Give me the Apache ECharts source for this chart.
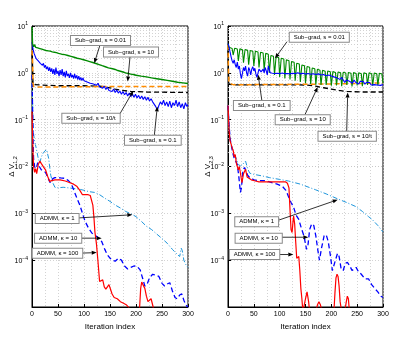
<!DOCTYPE html>
<html><head><meta charset="utf-8">
<script src="https://cdn.jsdelivr.net/npm/echarts@6/dist/echarts.min.js"></script>
<style>html,body{margin:0;padding:0;background:#fff}#c{width:415px;height:344px}</style>
</head><body><div id="c"></div>
<script>
// ---------- tick labels ----------
const xTicks = [0, 50, 100, 150, 200, 250, 300];
const yDecades = [-5, -4, -3, -2, -1, 0, 1];

// ---------- LEFT panel (ΔV_{1,2}) ----------
const L_sg001 = [[0,9.5],[1,4.2],[3,3.6],[5,4.0],[7,3.5],[9,3.8],[11,3.4],[13,3.7],[15,3.3],[17,3.6],[19,3.2],[21,3.5],[23,3.1],[25,3.4],[27,3.0],[29,3.3],[31,2.95],[33,3.2],[35,2.9],[37,3.1],[39,2.8],[41,3.05],[43,2.75],[45,2.95],[47,2.7],[49,2.9],[51,2.6],[54,2.8],[57,2.5],[60,2.7],[63,2.45],[66,2.6],[69,2.35],[72,2.5],[75,2.25],[78,2.4],[81,2.15],[84,2.3],[87,2.05],[90,2.2],[93,1.98],[96,2.1],[99,1.9],[102,2.0],[105,1.82],[108,1.92],[111,1.74],[114,1.84],[117,1.66],[120,1.74],[123,1.58],[126,1.66],[129,1.50],[132,1.56],[135,1.42],[138,1.48],[141,1.35],[144,1.40],[147,1.28],[150,1.32],[155,1.22],[160,1.18],[165,1.12],[170,1.08],[175,1.04],[180,1.0],[185,0.97],[190,0.94],[195,0.92],[200,0.89],[210,0.85],[220,0.82],[230,0.78],[240,0.75],[250,0.72],[260,0.69],[270,0.66],[280,0.63],[290,0.61],[300,0.59]];
const L_sg01 = [[0,4.5],[2,3.2],[4,2.6],[6,2.4],[8,2.0],[10,2.2],[12,1.8],[14,1.9],[16,1.6],[18,1.7],[20,1.45],[22,1.6],[24,1.3],[26,1.45],[28,1.2],[30,1.35],[32,1.1],[34,1.3],[36,1.05],[38,1.25],[40,0.95],[42,1.2],[44,0.9],[46,1.3],[48,0.95],[50,1.1],[52,0.85],[54,1.15],[56,0.9],[58,1.2],[60,0.85],[62,1.05],[64,0.8],[66,1.1],[68,0.85],[70,0.95],[72,0.78],[74,1.0],[76,0.8],[78,0.9],[80,0.75],[82,0.95],[84,0.76],[86,0.88],[88,0.72],[90,0.85],[92,0.7],[94,0.8],[96,0.68],[98,0.78],[100,0.68],[103,0.72],[106,0.64],[109,0.7],[112,0.6],[115,0.66],[118,0.58],[121,0.63],[124,0.54],[127,0.6],[130,0.5],[133,0.55],[136,0.47],[139,0.52],[142,0.44],[145,0.49],[148,0.42],[151,0.46],[154,0.40],[157,0.45],[160,0.38],[163,0.43],[166,0.37],[169,0.41],[172,0.35],[175,0.40],[178,0.34],[181,0.38],[184,0.32],[187,0.37],[190,0.31],[193,0.36],[196,0.30],[199,0.35],[202,0.29],[205,0.33],[208,0.28],[211,0.32],[214,0.27],[217,0.31],[220,0.26],[223,0.30],[226,0.25],[229,0.28],[232,0.24],[235,0.26],[238,0.19],[241,0.16],[244,0.20],[247,0.24],[250,0.21],[253,0.26],[256,0.20],[259,0.24],[262,0.19],[265,0.25],[268,0.18],[271,0.23],[274,0.20],[277,0.26],[280,0.19],[283,0.24],[286,0.18],[289,0.22],[292,0.17],[295,0.23],[298,0.19],[300,0.21]];
const L_sg10 = [[0,3.0],[1,2.0],[2,0.6],[3,0.51],[10,0.5],[50,0.5],[100,0.505],[150,0.51],[200,0.51],[250,0.51],[300,0.51]];
const L_sg10t = [[0,2.5],[1,1.5],[2,0.56],[3,0.53],[50,0.53],[100,0.53],[130,0.52],[145,0.49],[160,0.45],[175,0.42],[190,0.40],[220,0.39],[260,0.385],[300,0.38]];
const L_admm1 = [[0,0.6],[1,0.3],[2,0.08],[3,0.05],[5,0.035],[8,0.025],[12,0.015],[15,0.012],[18,0.016],[22,0.02],[28,0.023],[32,0.015],[36,0.0065],[40,0.0045],[44,0.0036],[50,0.0035],[60,0.0036],[70,0.0035],[80,0.0034],[90,0.0033],[100,0.0031],[110,0.0029],[120,0.0028],[130,0.0025],[140,0.0021],[150,0.0018],[160,0.0015],[170,0.0013],[180,0.0011],[190,0.00098],[200,0.00085],[210,0.00068],[220,0.00053],[230,0.00045],[240,0.00036],[250,0.00029],[260,0.00023],[270,0.00017],[280,0.00013],[284,0.00012],[287,0.00018],[289,0.00016],[292,0.0001],[296,0.00008],[300,0.00007]];
const L_admm10 = [[0,0.9],[1,0.2],[2,0.04],[3,0.015],[5,0.01],[8,0.009],[11,0.012],[14,0.01],[18,0.0085],[22,0.008],[26,0.0075],[30,0.006],[35,0.0045],[40,0.0055],[44,0.0058],[50,0.0058],[55,0.0057],[63,0.0056],[70,0.0050],[76,0.0042],[82,0.0028],[88,0.0019],[92,0.0015],[97,0.0010],[102,0.00068],[108,0.00050],[115,0.00038],[121,0.00034],[128,0.0003],[134,0.00025],[140,0.00017],[145,0.00013],[150,0.00011],[155,0.0001],[160,0.000095],[166,0.00011],[172,0.0001],[178,0.000075],[184,0.000065],[190,0.00007],[196,0.000075],[202,0.000074],[208,0.000062],[213,0.00004],[217,0.000028],[221,0.00003],[226,0.000042],[232,0.00005],[238,0.000048],[244,0.000045],[250,0.000032],[255,0.000028],[260,0.000031],[265,0.000033],[270,0.000022],[275,0.000016],[279,0.000015],[284,0.000018],[288,0.000019],[292,0.000014],[296,0.000011],[300,0.00001]];
const L_admm100 = [[0,0.15],[1,0.05],[2,0.02],[3,0.01],[5,0.0075],[7,0.009],[9,0.007],[12,0.011],[15,0.013],[18,0.0115],[22,0.0098],[26,0.0085],[30,0.0062],[34,0.0048],[38,0.005],[44,0.0052],[54,0.0052],[64,0.0049],[73,0.0045],[80,0.0042],[86,0.0038],[92,0.0031],[97,0.0025],[100,0.0024],[104,0.0025],[108,0.0025],[112,0.0024],[115,0.0022],[117,0.0015],[119,0.00085],[121,0.0004],[124,0.00022],[127,0.00009],[130,0.000035],[133,0.000032],[136,0.000038],[139,0.000027],[142,0.000024],[145,0.000027],[148,0.000030],[151,0.000024],[154,0.000019],[158,0.000016],[164,0.000015],[170,0.000013],[176,0.000012],[182,0.000011],[186,0.0000098],[190,0.000008],[200,0.000005],[205,0.000005],[207,0.00001],[209,0.000025],[211,0.000034],[214,0.000032],[217,0.000025],[220,0.000017],[223,0.000013],[226,0.000013],[229,0.000015],[231,0.000014],[233,0.00001],[235,0.000005],[300,0.000005]];

// ---------- RIGHT panel (ΔV_{2,3}) ----------
const R_sg001 = [[0,4.2],[2,3.5],
[3,3.45],[8,3.31],[10,2.4],[13,3.35],[18,3.22],[20,1.8],[23,3.25],[28,3.12],[30,1.65],[33,3.15],[38,3.02],[40,1.5],
[43,3.0],[48,2.88],[50,1.4],[53,2.9],[58,2.78],[60,1.3],[63,2.75],[68,2.64],[70,1.15],[73,2.6],[78,2.5],[80,1.0],
[83,2.35],[88,2.26],[90,0.9],[93,2.2],[98,2.11],[100,0.82],[103,2.05],[108,1.97],[110,0.76],[113,1.9],[118,1.82],[120,0.72],
[123,1.75],[128,1.68],[130,0.68],[133,1.6],[138,1.54],[140,0.64],[143,1.47],[148,1.41],[150,0.6],[153,1.37],[158,1.32],[160,0.58],
[163,1.27],[168,1.22],[170,0.56],[173,1.19],[178,1.14],[180,0.55],[183,1.13],[188,1.08],[190,0.55],[193,1.09],[198,1.05],[200,0.53],
[203,1.06],[208,1.02],[210,0.54],[213,1.04],[218,1.0],[220,0.52],[223,1.03],[228,0.99],[230,0.55],[233,1.02],[238,0.98],[240,0.51],
[243,1.01],[248,0.97],[250,0.54],[253,1.0],[258,0.96],[260,0.52],[263,1.0],[268,0.96],[270,0.55],[273,1.0],[278,0.96],[280,0.53],
[283,0.99],[288,0.95],[290,0.54],[293,0.98],[298,0.94],[300,0.6]];
const R_sg01 = [[0,4.2],[2,3.6],[4,2.8],[6,2.2],[8,1.8],[10,1.6],[12,1.9],[14,1.5],[16,1.3],[18,1.7],[20,1.2],[22,1.4],[24,0.95],[26,0.75],[28,0.8],[30,1.3],[32,1.1],[34,1.4],[36,1.0],[38,0.85],[40,1.3],[42,1.15],[44,0.9],[46,1.2],[48,1.35],[50,1.1],[52,1.25],[54,0.95],[56,0.8],[58,0.85],[60,1.2],[62,1.3],[64,1.05],[66,1.15],[68,1.2],[70,1.0],[72,1.3],[74,1.1],[76,0.9],[78,1.4],[80,1.15],[82,1.0],[84,1.05],[86,0.98],[90,0.97],[95,0.98],[100,0.96],[105,0.99],[110,0.96],[115,0.97],[120,0.95],[125,0.98],[130,0.96],[135,1.0],[140,0.95],[145,0.98],[150,0.94],[155,0.97],[160,0.93],[165,0.96],[170,0.92],[175,0.95],[180,0.9],[185,0.92],[190,0.87],[195,0.9],[200,0.86],[205,0.82],[208,0.88],[211,0.78],[214,0.85],[217,0.72],[220,0.8],[223,0.75],[226,0.62],[229,0.7],[232,0.76],[235,0.66],[238,0.72],[241,0.6],[244,0.7],[247,0.63],[250,0.68],[253,0.58],[256,0.66],[259,0.6],[262,0.65],[265,0.57],[268,0.63],[271,0.58],[274,0.62],[277,0.55],[280,0.6],[283,0.56],[286,0.61],[289,0.55],[292,0.6],[295,0.54],[298,0.58],[300,0.56]];
const R_sg10 = [[0,4.0],[1,1.0],[2,0.62],[4,0.68],[6,0.58],[10,0.56],[50,0.56],[100,0.565],[150,0.57],[200,0.58],[250,0.59],[300,0.61]];
const R_sg10t = [[0,3.0],[1,0.9],[2,0.57],[10,0.555],[50,0.555],[100,0.555],[150,0.55],[170,0.52],[185,0.48],[200,0.45],[215,0.42],[230,0.40],[260,0.39],[300,0.39]];
const R_admm1 = [[0,0.2],[2,0.08],[4,0.037],[8,0.025],[14,0.017],[19,0.012],[23,0.01],[28,0.011],[34,0.013],[38,0.009],[42,0.0072],[50,0.0068],[66,0.0063],[80,0.0058],[100,0.0053],[117,0.0049],[140,0.0042],[169,0.0032],[190,0.0026],[214,0.002],[230,0.0017],[247,0.0014],[260,0.0011],[272,0.00085],[279,0.00074],[290,0.00055],[300,0.0004]];
const R_admm10 = [[0,0.2],[2,0.08],[4,0.04],[6,0.03],[9,0.02],[12,0.015],[15,0.013],[18,0.011],[21,0.006],[24,0.0028],[26,0.0035],[29,0.0085],[32,0.0095],[35,0.008],[38,0.0065],[42,0.0058],[50,0.0052],[60,0.005],[72,0.005],[85,0.0045],[95,0.0042],[105,0.0038],[112,0.0031],[117,0.0023],[122,0.0017],[127,0.00135],[132,0.0009],[137,0.00074],[142,0.00048],[147,0.00033],[152,0.00017],[155,0.00022],[158,0.00045],[162,0.0006],[166,0.00055],[170,0.00033],[174,0.00016],[177,0.0001],[181,0.00018],[186,0.00033],[190,0.00035],[194,0.00025],[198,0.00013],[202,0.00006],[205,0.00006],[208,0.0001],[212,0.00014],[215,0.00012],[219,0.000065],[223,0.00006],[227,0.000085],[231,0.00009],[236,0.000075],[240,0.00006],[244,0.000065],[248,0.00007],[252,0.000058],[258,0.00005],[265,0.00004],[272,0.00004],[278,0.00003],[284,0.000025],[290,0.000021],[296,0.000017],[300,0.000016]];
const R_admm100 = [[0,0.2],[2,0.06],[4,0.035],[6,0.03],[8,0.025],[10,0.022],[12,0.016],[14,0.018],[16,0.012],[18,0.01],[20,0.0085],[22,0.01],[24,0.0095],[27,0.0045],[30,0.007],[34,0.0087],[37,0.006],[40,0.0057],[45,0.0052],[53,0.0049],[60,0.0047],[72,0.0047],[90,0.0047],[111,0.0047],[115,0.0044],[118,0.0035],[120,0.0012],[122,0.00045],[124,0.00039],[126,0.0007],[127,0.00087],[129,0.0006],[131,0.00025],[133,0.00011],[135,0.0001],[137,0.00012],[139,0.00006],[141,0.000025],[143,0.000015],[145,0.000008],[148,0.000008],[150,0.000015],[153,0.000021],[156,0.000013],[158,0.000008],[170,0.000008],[173,0.000011],[176,0.000013],[179,0.000011],[182,0.000008],[205,0.000008],[207,0.00002],[209,0.000042],[211,0.00005],[213,0.000045],[215,0.000028],[217,0.000013],[220,0.000008],[226,0.000008],[229,0.000013],[231,0.000017],[233,0.000015],[235,0.000008],[300,0.000008]];

// ---------- annotations (anchors in data coordinates) ----------
const annotations = [
 {g:0, text:'Sub\u2212grad, s = 0.01', box:[131.7,4.91], from:[130.8,3.94], to:[119.8,1.61]},
 {g:0, text:'Sub\u2212grad, s = 10', box:[190.4,2.77], from:[188.5,2.22], to:[184,0.653]},
 {g:0, text:'Sub\u2212grad, s = 10/t', box:[113.5,0.1076], from:[169.2,0.134], to:[194.8,0.414]},
 {g:0, text:'Sub\u2212grad, s = 0.1', box:[232.4,0.0363], from:[235.2,0.0457], to:[241,0.192]},
 {g:0, text:'ADMM, \u03ba = 1', box:[48.4,7.76e-4], from:[86.5,7.94e-4], to:[192.9,9.33e-4]},
 {g:0, text:'ADMM, \u03ba = 10', box:[50.3,2.95e-4], from:[90.4,2.95e-4], to:[134,2.95e-4]},
 {g:0, text:'ADMM, \u03ba = 100', box:[49,1.41e-4], from:[90.4,1.41e-4], to:[124.4,1.45e-4]},
 {g:1, text:'Sub\u2212grad, s = 0.01', box:[176.7,5.78], from:[114.2,4.63], to:[91,2.04]},
 {g:1, text:'Sub\u2212grad, s = 0.1', box:[65.4,0.2], from:[65.8,0.245], to:[58.4,0.906]},
 {g:1, text:'Sub\u2212grad, s = 10', box:[144.6,0.1], from:[149,0.128], to:[173.6,0.497]},
 {g:1, text:'Sub\u2212grad, s = 10/t', box:[230.7,0.0442], from:[229.7,0.055], to:[231.7,0.381]},
 {g:1, text:'ADMM, \u03ba = 1', box:[55.5,6.61e-4], from:[94.3,6.92e-4], to:[212.3,1.95e-3]},
 {g:1, text:'ADMM, \u03ba = 10', box:[59.4,2.95e-4], from:[98.7,3.09e-4], to:[155.4,3.09e-4]},
 {g:1, text:'ADMM, \u03ba = 100', box:[51.3,1.32e-4], from:[92.3,1.32e-4], to:[126.4,1.32e-4]}
];
const yNames = ['1,2', '2,3'];

const FONT = 'Liberation Sans, Arial, Helvetica, sans-serif';
const chart = echarts.init(document.getElementById('c'), null, {renderer:'canvas'});

// minor log grid lines (2..9 within each decade)
const minorY = [];
for (let d = -5; d < 1; d++) for (let k = 2; k <= 9; k++) minorY.push({yAxis: k * Math.pow(10, d)});

function xAxisCfg(g) {
  return {
    type:'value', gridIndex:g, min:0, max:300, interval:50,
    name:'Iteration index', nameLocation:'middle', nameGap:10,
    nameTextStyle:{fontSize:8, fontFamily:FONT, color:'#000'},
    axisLine:{lineStyle:{color:'#000', width:1}},
    axisTick:{inside:true, length:3, lineStyle:{color:'#000'}},
    axisLabel:{fontSize:7, fontFamily:FONT, color:'#000', margin:4,
      formatter: v => xTicks.includes(v) ? String(v) : ''},
    splitLine:{show:true, lineStyle:{color:'#c8c8c8', type:[1,2], width:0.8}},
    minorTick:{show:false, splitNumber:2},
    minorSplitLine:{show:true, lineStyle:{color:'#c8c8c8', type:[1,2], width:0.8}}
  };
}
function yAxisCfg(g) {
  return {
    type:'log', logBase:10, gridIndex:g, min:1e-5, max:10, splitNumber:6,
    axisLine:{show:true, lineStyle:{color:'#000', width:1}},
    axisTick:{inside:true, length:3, lineStyle:{color:'#000'}},
    axisLabel:{fontFamily:FONT, color:'#000', margin:4,
      formatter: v => { const e = Math.round(Math.log10(v)); if (!yDecades.includes(e) || e === -5) return ''; return '{b|10}{s|' + (e < 0 ? '\u2212' + (-e) : e) + '}'; },
      rich:{b:{fontSize:7, fontFamily:FONT, color:'#000', verticalAlign:'bottom', lineHeight:9},
            s:{fontSize:5, fontFamily:FONT, color:'#000', verticalAlign:'top', lineHeight:9}}},
    splitLine:{show:true, lineStyle:{color:'#c8c8c8', type:[1,2], width:0.8}}
  };
}

function line(g, data, color, width, type, z) {
  return {type:'line', xAxisIndex:g, yAxisIndex:g, data:data, showSymbol:false, symbol:'none',
    animation:false, clip:true, z:z||2,
    lineStyle:{color:color, width:width, type:type||'solid'}};
}
function gridLines(g) {
  return {type:'line', xAxisIndex:g, yAxisIndex:g, data:[], silent:true, animation:false,
    markLine:{silent:true, symbol:'none', animation:false, label:{show:false},
      lineStyle:{color:'#c8c8c8', type:[1,2], width:0.8}, data:minorY}, z:1};
}

const GREEN = '#008a00', BLUE = '#0000ff', ORANGE = '#ff8c00', BLACK = '#000000', CYAN = '#1e96dc', RED = '#ff0000';
const DASH = [5,3], DASHDOT = [5,2,1,2];
const GRIDS = [{left:32, top:26, width:156, height:281}, {left:228, top:26, width:155, height:281}];

chart.setOption({
  backgroundColor:'#fff',
  animation:false,
  textStyle:{fontFamily:FONT},
  grid: GRIDS.map(g => Object.assign({show:true, borderColor:'#000', borderWidth:1, backgroundColor:'transparent'}, g)),
  xAxis:[xAxisCfg(0), xAxisCfg(1)],
  yAxis:[yAxisCfg(0), yAxisCfg(1)],
  series:[
    gridLines(0), gridLines(1),
    line(0, L_admm1, CYAN, 1, DASHDOT, 3),
    line(0, L_admm10, BLUE, 1.3, DASH, 4),
    line(0, L_admm100, RED, 1.2, 'solid', 5),
    line(0, L_sg10t, BLACK, 1.3, DASH, 6),
    line(0, L_sg10, ORANGE, 1.5, DASH, 7),
    line(0, L_sg01, BLUE, 1.1, 'solid', 8),
    line(0, L_sg001, GREEN, 1.4, 'solid', 9),
    line(1, R_admm1, CYAN, 1, DASHDOT, 3),
    line(1, R_admm10, BLUE, 1.3, DASH, 4),
    line(1, R_admm100, RED, 1.2, 'solid', 5),
    line(1, R_sg10t, BLACK, 1.3, DASH, 6),
    line(1, R_sg10, ORANGE, 1.5, DASH, 7),
    line(1, R_sg001, GREEN, 1.1, 'solid', 8),
    line(1, R_sg01, BLUE, 1.1, 'solid', 9)
  ]
});

// annotations: boxes + arrows, placed through the chart's own coordinate conversion
const gfx = [];
annotations.forEach(a => {
  const b = chart.convertToPixel({gridIndex:a.g}, a.box);
  const f = chart.convertToPixel({gridIndex:a.g}, a.from);
  const t = chart.convertToPixel({gridIndex:a.g}, a.to);
  const dx = t[0]-f[0], dy = t[1]-f[1], len = Math.hypot(dx,dy) || 1;
  const ux = dx/len, uy = dy/len, hl = 5, hw = 2;
  const bx = t[0]-ux*hl, by = t[1]-uy*hl;
  gfx.push({type:'line', z:100, silent:true, shape:{x1:f[0], y1:f[1], x2:bx, y2:by}, style:{stroke:'#000', lineWidth:0.8}});
  gfx.push({type:'polygon', z:100, silent:true, shape:{points:[[t[0],t[1]],[bx-uy*hw, by+ux*hw],[bx+uy*hw, by-ux*hw]]}, style:{fill:'#000'}});
  gfx.push({type:'text', z:101, silent:true, x:b[0], y:b[1], style:{text:a.text, fontSize:6, fontFamily:FONT, fill:'#000',
    align:'center', verticalAlign:'middle', backgroundColor:'#fff', borderColor:'#8a8a8a', borderWidth:1, padding:[2,4,1,4]}});
});
// y-axis titles (rotated), placed relative to each grid
GRIDS.forEach((g, i) => {
  gfx.push({type:'text', z:101, silent:true, x:g.left - 19, y:g.top + g.height * 0.5, rotation:Math.PI/2,
    style:{text:'{d|\u0394 V}{s|' + yNames[i] + '}', align:'center', verticalAlign:'middle', fill:'#000',
      rich:{d:{fontSize:8, fontFamily:FONT, fill:'#000', verticalAlign:'top', lineHeight:11},
            s:{fontSize:5.5, fontFamily:FONT, fill:'#000', verticalAlign:'bottom', lineHeight:11}}}});
});
chart.setOption({graphic:gfx});
</script>
</body></html>
